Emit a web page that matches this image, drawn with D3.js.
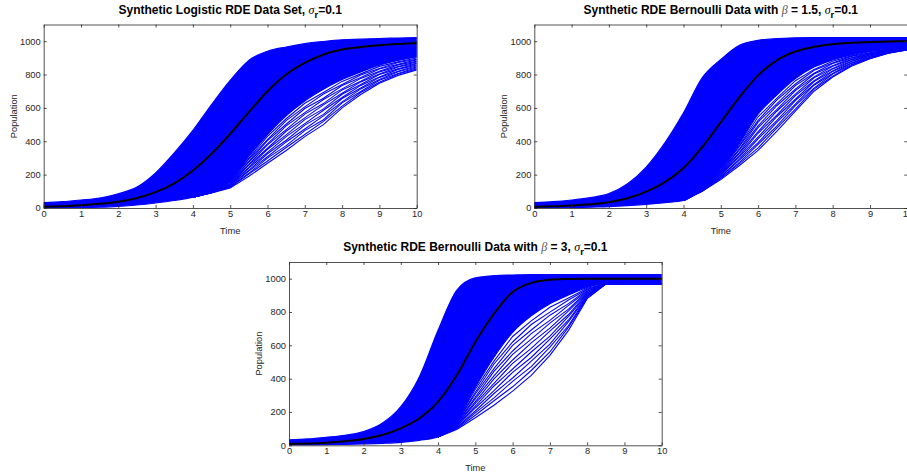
<!DOCTYPE html>
<html>
<head>
<meta charset="utf-8">
<script src="https://cdn.jsdelivr.net/npm/d3@7"></script>
<style>
  body { margin: 0; background: #fff; }
  svg { display: block; font-family: "Liberation Sans", Arial, sans-serif; }
</style>
</head>
<body>
<div id="chart"></div>
<script>
// sample times of the read-off curves
const times = [0, 0.5, 1, 1.5, 2, 2.5, 3, 3.5, 4, 4.5, 5, 5.5, 6, 6.5, 7, 7.5, 8, 8.5, 9, 9.5, 10];
const tailTimes = [4, 4.5, 5, 5.5, 6, 6.5, 7, 7.5, 8, 8.5, 9, 9.5, 10];
const xTicks = [0, 1, 2, 3, 4, 5, 6, 7, 8, 9, 10];
const yTicks = [0, 200, 400, 600, 800, 1000];

// panel 1: logistic
const mean1  = [8, 11, 16, 25, 38, 60, 95, 148, 225, 325, 445, 575, 700, 800, 870, 920, 950, 965, 976, 983, 988];
const upper1 = [32, 38, 48, 60, 85, 125, 210, 330, 465, 620, 765, 885, 940, 965, 985, 998, 1008, 1012, 1016, 1019, 1022];
const core1  = [0, 0, 2, 5, 10, 18, 30, 45, 65, 98, 171, 309, 440, 553, 642, 712, 770, 816, 856, 884, 905];
const strays1 = [
  [65, 97, 168, 298, 429, 535, 628, 692, 759, 804, 849, 876, 899],
  [65, 97, 161, 293, 410, 524, 606, 683, 740, 797, 836, 872, 892],
  [65, 96, 160, 280, 404, 502, 596, 658, 734, 782, 833, 862, 888],
  [65, 95, 154, 275, 385, 492, 572, 650, 714, 777, 820, 858, 880],
  [65, 95, 152, 262, 378, 470, 563, 626, 708, 760, 816, 848, 876],
  [65, 94, 146, 257, 358, 460, 540, 618, 688, 756, 803, 845, 868],
  [65, 94, 144, 244, 352, 438, 530, 594, 682, 740, 800, 834, 865],
  [65, 93, 138, 239, 333, 428, 506, 586, 662, 735, 786, 831, 857],
  [65, 92, 136, 226, 325, 406, 497, 561, 656, 719, 783, 820, 853],
  [65, 92, 130, 221, 307, 396, 474, 552, 636, 714, 770, 817, 845],
  [65, 91, 128, 208, 299, 374, 464, 529, 630, 698, 766, 806, 841],
  [65, 91, 124, 203, 282, 363, 441, 519, 611, 692, 754, 803, 833],
  [65, 90, 120, 190, 268, 345, 428, 500, 600, 680, 748, 795, 828]
];

// panel 2: Bernoulli, beta = 1.5
const mean2  = [8, 10, 15, 22, 34, 58, 98, 155, 240, 365, 515, 665, 795, 885, 938, 966, 982, 990, 995, 998, 1000];
const upper2 = [32, 38, 48, 62, 86, 145, 245, 390, 570, 780, 890, 975, 1005, 1015, 1020, 1022, 1022, 1022, 1022, 1022, 1022];
const core2  = [0, 0, 2, 5, 8, 14, 22, 32, 45, 117, 238, 387, 562, 677, 776, 845, 887, 918, 940, 951, 958];
const strays2 = [
  [45, 116, 234, 375, 547, 657, 763, 831, 880, 912, 938, 948, 957],
  [45, 114, 226, 369, 525, 647, 743, 826, 869, 909, 931, 948, 956],
  [45, 113, 223, 354, 515, 624, 734, 808, 866, 900, 931, 945, 955],
  [45, 112, 216, 348, 492, 613, 712, 803, 853, 898, 925, 945, 954],
  [45, 110, 213, 334, 482, 590, 704, 786, 850, 890, 924, 941, 954],
  [45, 109, 206, 328, 458, 580, 683, 781, 837, 888, 918, 941, 953],
  [45, 108, 203, 314, 448, 557, 674, 763, 834, 880, 917, 937, 952],
  [45, 106, 197, 307, 425, 547, 652, 758, 822, 878, 911, 938, 951],
  [45, 105, 190, 293, 415, 524, 644, 740, 819, 869, 910, 934, 950],
  [45, 104, 187, 287, 392, 513, 623, 736, 806, 867, 904, 933, 950],
  [45, 102, 180, 273, 381, 491, 614, 719, 803, 859, 902, 930, 949],
  [45, 101, 176, 266, 360, 479, 593, 713, 790, 856, 897, 929, 948],
  [45, 100, 170, 255, 345, 460, 580, 700, 785, 850, 895, 928, 948]
];

// panel 3: Bernoulli, beta = 3
const mean3  = [8, 11, 16, 25, 38, 62, 102, 162, 262, 420, 620, 790, 920, 975, 993, 998, 1000, 1000, 1000, 1000, 1000];
const upper3 = [32, 38, 48, 60, 82, 132, 232, 412, 690, 930, 1005, 1018, 1022, 1025, 1025, 1025, 1025, 1025, 1025, 1025, 1025];
const core3  = [0, 0, 2, 5, 8, 12, 18, 30, 50, 150, 348, 529, 678, 777, 850, 902, 948, 970, 970, 970, 970];
const strays3 = [
  [50, 146, 336, 505, 653, 747, 828, 884, 943, 970, 970, 970, 970],
  [50, 141, 318, 488, 620, 725, 799, 872, 937, 970, 970, 970, 970],
  [50, 138, 308, 460, 600, 692, 781, 850, 933, 969, 970, 970, 970],
  [50, 133, 290, 444, 566, 670, 750, 840, 926, 969, 970, 970, 970],
  [50, 129, 280, 416, 546, 637, 733, 817, 923, 969, 970, 970, 970],
  [50, 124, 262, 399, 512, 615, 703, 807, 916, 969, 970, 970, 970],
  [50, 121, 252, 372, 492, 582, 685, 785, 913, 969, 970, 970, 970],
  [50, 116, 235, 356, 458, 560, 655, 774, 905, 969, 970, 970, 970],
  [50, 112, 224, 328, 438, 527, 637, 752, 902, 969, 970, 970, 970],
  [50, 108, 206, 311, 404, 505, 607, 742, 895, 968, 970, 970, 970],
  [50, 104, 195, 285, 384, 472, 589, 719, 892, 968, 970, 970, 970],
  [50, 99, 180, 267, 351, 449, 560, 709, 884, 968, 970, 970, 970],
  [50, 95, 165, 240, 325, 420, 540, 690, 880, 968, 970, 970, 970]
];

const width = 907;
const height = 476;
const axisColor = "#262626";

const svg = d3.select("#chart")
  .append("svg")
  .attr("width", width)
  .attr("height", height);

function drawPanel(p) {
  const x = d3.scaleLinear().domain([0, 10]).range([p.left, p.right]);
  const y = d3.scaleLinear().domain([0, 1100]).range([p.bottom, p.top]);
  const g = svg.append("g");

  g.append("clipPath").attr("id", p.id)
    .append("rect")
    .attr("x", p.left).attr("y", p.top)
    .attr("width", p.right - p.left).attr("height", p.bottom - p.top);

  const plot = g.append("g").attr("clip-path", `url(#${p.id})`);

  // dense band of sample paths
  const area = d3.area()
    .x((d, i) => x(times[i]))
    .y0((d, i) => y(p.core[i]))
    .y1(d => y(d))
    .curve(d3.curveMonotoneX);
  plot.append("path")
    .attr("d", area(p.upper))
    .attr("fill", "#0000ff")
    .attr("stroke", "#0000ff")
    .attr("stroke-width", 1.2);

  // sparse slow paths below the band
  const tail = d3.line().x((d, i) => x(tailTimes[i])).y(d => y(d));
  p.strays.forEach(s => {
    plot.append("path")
      .attr("d", tail(s))
      .attr("fill", "none")
      .attr("stroke", "#0000ff")
      .attr("stroke-width", 1.1);
  });

  // mean curve
  const line = d3.line().x((d, i) => x(times[i])).y(d => y(d)).curve(d3.curveMonotoneX);
  plot.append("path")
    .attr("d", line(p.mean))
    .attr("fill", "none")
    .attr("stroke", "#000")
    .attr("stroke-width", 2);

  // axes, ticks inside on all four sides
  const bottom = g.append("g").attr("transform", `translate(0,${p.bottom})`)
    .call(d3.axisBottom(x).tickValues(xTicks).tickSizeInner(-3).tickSizeOuter(0).tickPadding(2));
  const left = g.append("g").attr("transform", `translate(${p.left},0)`)
    .call(d3.axisLeft(y).tickValues(yTicks).tickFormat(d3.format("d"))
      .tickSizeInner(-3).tickSizeOuter(0).tickPadding(3));
  const top = g.append("g").attr("transform", `translate(0,${p.top})`)
    .call(d3.axisTop(x).tickValues(xTicks).tickSizeInner(-3).tickSizeOuter(0).tickFormat(""));
  const right = g.append("g").attr("transform", `translate(${p.right},0)`)
    .call(d3.axisRight(y).tickValues(yTicks).tickSizeInner(-3).tickSizeOuter(0).tickFormat(""));

  [bottom, left, top, right].forEach(a => {
    a.selectAll("path, line").attr("stroke", axisColor).attr("stroke-width", 0.8);
    a.selectAll("text")
      .attr("fill", axisColor)
      .style("font-size", "9.3px")
      .style("font-family", "'Liberation Sans', Arial, sans-serif");
  });

  g.append("text")
    .attr("x", (p.left + p.right) / 2)
    .attr("y", p.bottom + 25.5)
    .attr("text-anchor", "middle")
    .attr("fill", axisColor)
    .style("font-size", "9.3px")
    .text("Time");

  g.append("text")
    .attr("transform", `translate(${p.left - 27},${(p.top + p.bottom) / 2}) rotate(-90)`)
    .attr("text-anchor", "middle")
    .attr("fill", axisColor)
    .style("font-size", "9.3px")
    .text("Population");

  // title
  const t = g.append("text")
    .attr("x", (p.left + p.right) / 2)
    .attr("y", p.top - 11)
    .attr("text-anchor", "middle")
    .attr("fill", "#000")
    .style("font-size", "12px")
    .style("font-weight", "bold");
  t.append("tspan").text(p.titleStart);
  if (p.beta) {
    t.append("tspan").text("\u03B2")
      .style("font-family", "'Liberation Serif', serif")
      .style("font-style", "italic")
      .style("font-weight", "normal")
      .attr("fill", "#555");
    t.append("tspan").text(` = ${p.beta}, `);
  }
  t.append("tspan").text("\u03C3")
    .style("font-family", "'Liberation Serif', serif")
    .style("font-style", "italic")
    .style("font-weight", "normal");
  t.append("tspan").text("r").attr("dy", 4).style("font-size", "9.5px");
  t.append("tspan").text("=0.1").attr("dy", -4);
}

drawPanel({
  id: "clip1", left: 43.7, right: 416.7, top: 24.5, bottom: 208,
  mean: mean1, upper: upper1, core: core1, strays: strays1,
  titleStart: "Synthetic Logistic RDE Data Set, "
});

drawPanel({
  id: "clip2", left: 534.3, right: 907.3, top: 24.5, bottom: 208,
  mean: mean2, upper: upper2, core: core2, strays: strays2,
  titleStart: "Synthetic RDE Bernoulli Data with ", beta: "1.5"
});

drawPanel({
  id: "clip3", left: 289, right: 661.7, top: 262, bottom: 445.3,
  mean: mean3, upper: upper3, core: core3, strays: strays3,
  titleStart: "Synthetic RDE Bernoulli Data with ", beta: "3"
});
</script>
</body>
</html>
